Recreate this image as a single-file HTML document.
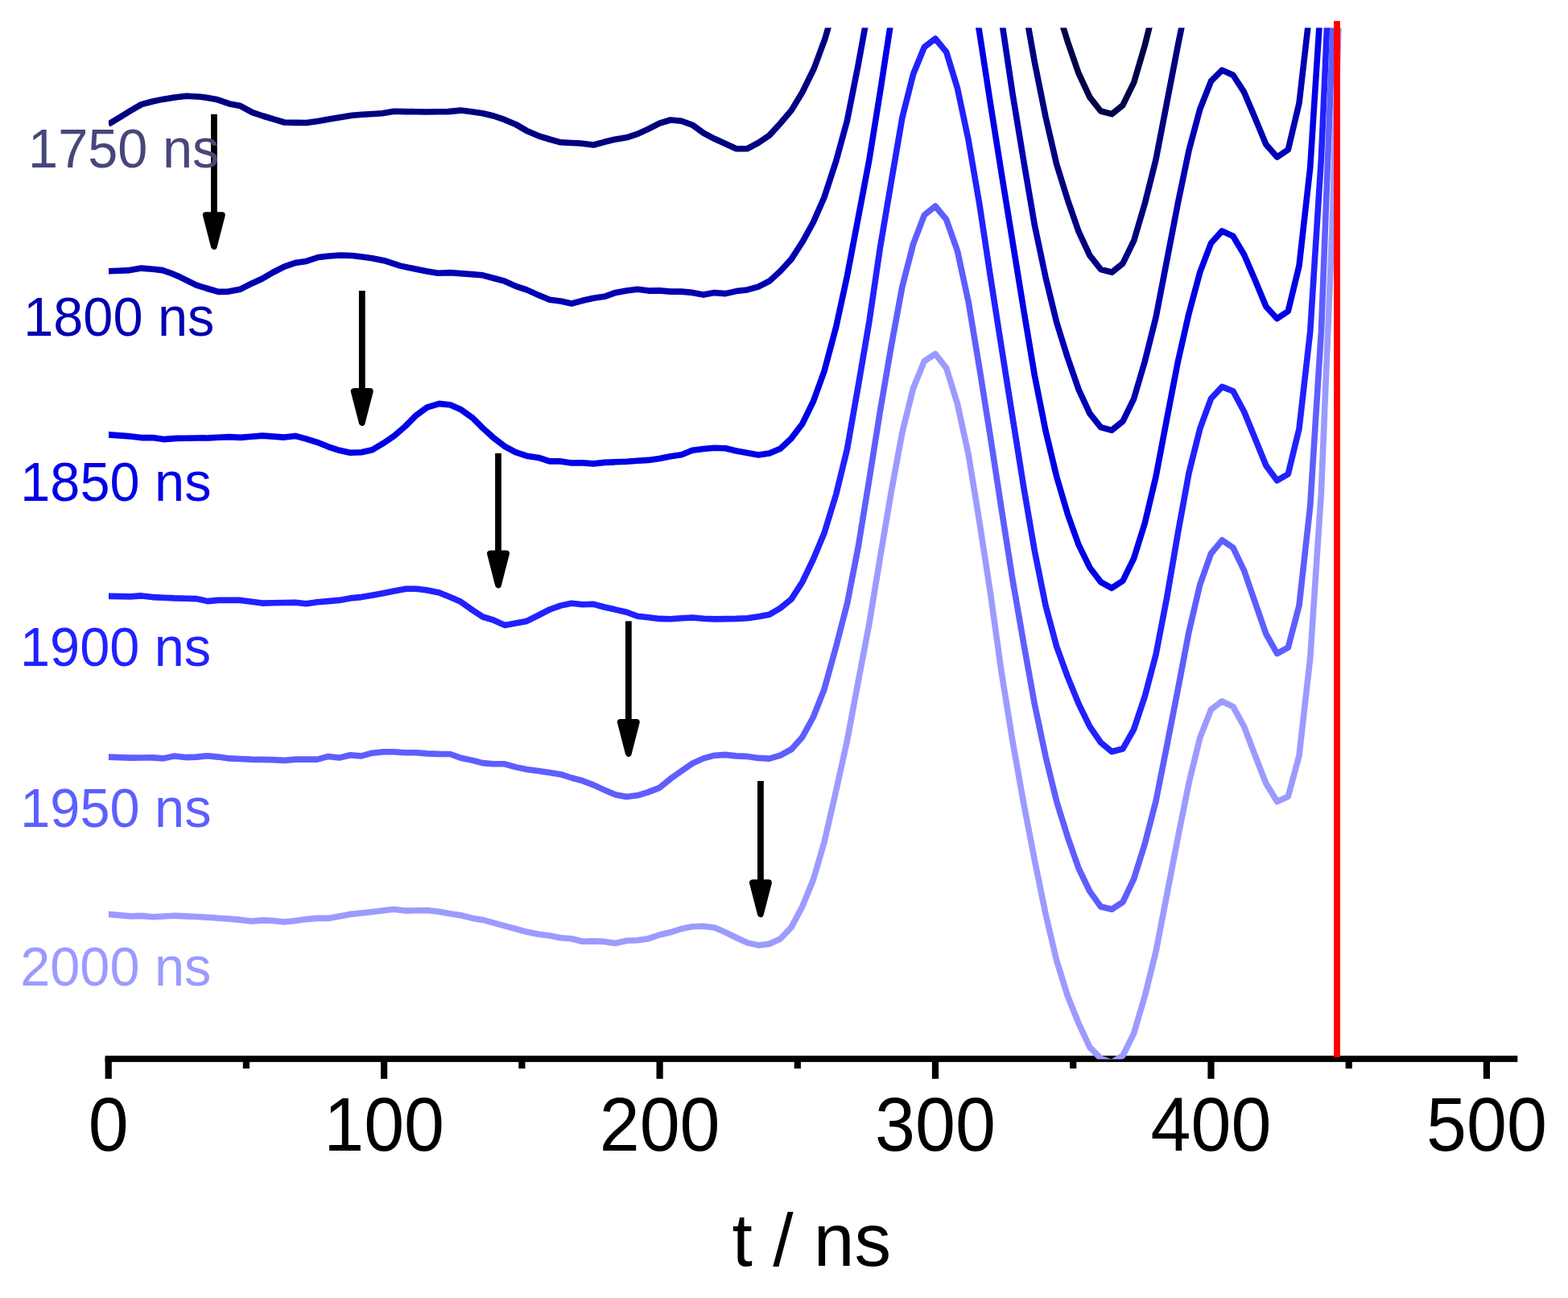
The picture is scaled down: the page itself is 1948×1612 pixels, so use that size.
<!DOCTYPE html>
<html lang="en"><head><meta charset="utf-8"><title>t / ns</title>
<style>html,body{margin:0;padding:0;background:#fff}body{width:1948px;height:1612px;overflow:hidden}svg{display:block}text{font-family:"Liberation Sans",Arial,sans-serif}</style>
</head><body>
<svg width="1948" height="1612" viewBox="0 0 1948 1612" role="img" aria-label="Stacked traces versus t / ns">
<rect width="1948" height="1612" fill="#fff"/>
<defs><clipPath id="plot"><rect x="134.9" y="34.6" width="1765.1" height="1281.0"/></clipPath></defs>
<g fill="#000">
<rect x="130.6" y="1311.1" width="1754.7" height="7.8"/>
<rect x="130.6" y="1313.1" width="8.2" height="26.7"/>
<rect x="301.8" y="1313.1" width="8.2" height="13.9"/>
<rect x="473.0" y="1313.1" width="8.2" height="26.7"/>
<rect x="644.3" y="1313.1" width="8.2" height="13.9"/>
<rect x="815.5" y="1313.1" width="8.2" height="26.7"/>
<rect x="986.7" y="1313.1" width="8.2" height="13.9"/>
<rect x="1157.9" y="1313.1" width="8.2" height="26.7"/>
<rect x="1329.1" y="1313.1" width="8.2" height="13.9"/>
<rect x="1500.4" y="1313.1" width="8.2" height="26.7"/>
<rect x="1671.6" y="1313.1" width="8.2" height="13.9"/>
<rect x="1842.8" y="1313.1" width="8.2" height="26.7"/>
</g>
<g clip-path="url(#plot)" fill="none" stroke-width="7.6" stroke-linejoin="round" stroke-linecap="butt">
<polyline stroke="#000049" points="1230.5,-448.3 1244.2,-355.3 1257.9,-268.3 1271.6,-189.3 1285.3,-113.3 1299.0,-48.3 1312.7,7.7 1326.4,51.7 1340.1,91.2 1353.8,120.7 1367.5,138.0 1381.2,141.7 1394.9,130.7 1408.6,102.7 1422.3,56.2 1436.0,1.7 1449.7,-69.3 1463.4,-140.3 1477.1,-207.3 1490.8,-258.3 1504.5,-292.3"/>
<polyline stroke="#000080" points="134.7,154.3 148.4,146.0 162.1,137.5 175.8,129.6 189.5,126.0 201.9,123.4 216.9,121.0 231.7,119.2 249.0,120.2 258.0,121.5 268.9,123.4 285.0,128.9 298.7,131.6 313.5,139.6 326.5,144.0 340.2,148.2 353.3,152.0 367.6,152.4 380.5,152.5 395.0,150.5 408.7,148.0 422.4,145.8 437.6,143.3 450.0,142.3 463.5,141.5 474.8,140.8 489.7,138.3 503.4,138.6 517.0,138.8 529.4,139.0 543.0,138.8 556.7,138.6 572.4,137.1 586.0,138.8 599.7,140.8 613.3,144.0 627.0,148.7 640.6,154.4 654.3,162.4 669.2,168.8 682.8,173.0 696.5,176.8 710.0,177.5 721.3,178.0 737.4,180.0 751.0,176.3 763.5,173.3 778.4,170.8 792.0,166.4 805.7,160.1 819.3,153.2 833.0,149.0 846.6,150.2 860.2,155.2 873.9,165.1 887.5,172.3 901.2,178.5 914.8,184.7 928.5,184.7 942.1,177.3 955.8,168.1 969.4,153.2 983.1,137.1 996.7,114.7 1011.3,85.0 1025.0,48.0 1038.7,0.0 1052.4,-60.0 1100.0,-300.0 1180.0,-300.0 1175.7,-530.8 1189.4,-485.8 1203.1,-420.8 1216.8,-342.8 1230.5,-251.8 1244.2,-158.8 1257.9,-90.0 1271.6,0.0 1285.3,77.0 1299.0,145.0 1312.7,204.2 1326.4,248.2 1340.1,287.7 1353.8,317.2 1367.5,334.5 1381.2,338.2 1394.9,327.2 1408.6,299.2 1422.3,252.7 1436.0,198.2 1449.7,127.2 1463.4,56.2 1477.1,-10.8 1490.8,-61.8 1504.5,-95.8"/>
<polyline stroke="#0000b2" points="134.7,336.8 148.4,336.2 161.0,335.6 175.8,333.1 189.5,334.3 201.9,335.6 213.0,339.5 224.2,344.3 244.0,354.2 258.0,358.5 271.4,362.4 283.8,362.1 298.7,359.2 313.5,351.7 326.0,346.0 339.6,338.0 353.3,331.1 368.0,326.2 380.5,324.4 395.4,319.5 409.0,318.0 422.7,317.0 437.6,317.5 450.0,319.0 462.4,320.7 477.3,323.7 497.2,330.1 517.0,334.3 530.7,337.0 544.3,339.3 559.2,338.6 572.4,339.6 586.0,340.6 599.7,341.8 613.3,345.5 627.0,349.2 640.6,355.4 654.3,359.9 669.2,366.6 682.8,372.3 696.5,374.0 710.1,377.0 723.8,373.3 737.4,370.3 751.0,368.3 764.7,363.4 778.4,361.1 792.0,359.2 805.7,361.1 819.3,360.9 833.0,362.1 846.6,362.1 860.2,363.4 873.9,366.1 887.5,363.6 901.2,364.6 914.8,361.6 928.5,359.9 942.1,356.2 955.8,349.2 969.4,336.8 983.1,321.9 996.7,300.8 1010.4,276.0 1024.0,245.0 1038.7,200.0 1052.4,150.0 1066.1,81.0 1079.8,6.0 1093.5,-75.0 1107.2,-160.0 1120.9,-253.7 1134.6,-308.2 1148.3,-341.7 1162.0,-351.7 1175.7,-334.7 1189.4,-289.7 1203.1,-224.7 1216.8,-146.7 1230.5,-66.0 1244.2,24.0 1257.9,116.0 1271.6,199.0 1285.3,279.3 1299.0,344.3 1312.7,400.3 1326.4,444.3 1340.1,483.8 1353.8,513.3 1367.5,530.6 1381.2,534.3 1394.9,523.3 1408.6,495.3 1422.3,448.8 1436.0,394.3 1449.7,323.3 1463.4,252.3 1477.1,186.4 1490.8,135.5 1504.5,100.8 1518.2,87.1 1531.9,93.3 1545.6,114.4 1559.3,146.7 1572.9,179.6 1586.6,195.1 1600.3,185.8 1614.0,128.1 1627.7,9.0 1641.4,-200.0 1655.1,-535.7 1668.8,-910.7"/>
<polyline stroke="#0000e6" points="134.7,539.9 148.4,540.9 162.2,541.9 175.8,543.6 189.5,543.6 203.1,545.6 219.3,544.4 231.0,544.2 244.0,544.0 259.0,543.9 271.4,543.3 285.0,542.6 298.7,543.4 312.3,542.2 326.0,541.1 339.6,542.1 353.3,543.1 366.9,541.4 380.5,545.1 394.2,549.3 407.8,554.8 421.5,559.3 435.1,562.2 448.8,561.7 462.4,558.8 476.1,550.6 489.7,541.4 503.4,529.5 517.0,515.8 530.7,505.9 545.6,501.4 559.2,502.7 572.9,508.8 587.3,519.1 599.7,531.5 613.3,543.9 627.0,554.3 640.6,561.7 654.3,566.2 669.2,568.4 682.8,572.9 696.5,572.9 710.1,574.9 723.8,574.9 737.4,575.9 751.0,574.4 764.7,573.8 778.4,573.2 792.0,572.3 805.7,571.4 819.3,569.4 833.0,566.7 846.6,564.7 860.2,559.3 873.9,557.5 887.5,556.3 901.2,556.8 914.8,560.0 928.5,562.5 942.1,565.0 955.8,563.0 969.4,557.3 983.1,544.4 996.7,526.5 1010.4,498.5 1024.0,461.0 1038.7,406.0 1052.4,343.0 1066.1,271.0 1079.8,199.0 1093.5,114.0 1107.2,25.0 1120.9,-57.7 1134.6,-112.2 1148.3,-145.7 1162.0,-155.7 1175.7,-138.7 1189.4,-93.7 1203.1,-37.0 1216.8,40.0 1230.5,129.0 1244.2,215.3 1257.9,299.6 1271.6,384.0 1285.3,466.0 1299.0,535.0 1312.7,592.0 1326.4,638.5 1340.1,676.7 1353.8,704.7 1367.5,722.8 1381.2,730.3 1394.9,721.4 1408.6,693.5 1422.3,649.7 1436.0,592.0 1449.7,520.0 1463.4,449.0 1477.1,388.9 1490.8,338.0 1504.5,302.0 1518.2,286.9 1531.9,293.3 1545.6,316.3 1559.3,347.9 1572.9,380.8 1586.6,395.7 1600.3,386.4 1614.0,330.0 1627.7,208.0 1641.4,-5.0 1655.1,-339.7 1668.8,-714.7"/>
<polyline stroke="#2121ff" points="134.7,740.4 148.4,740.6 162.2,740.9 175.8,739.9 189.5,741.6 203.1,742.2 216.8,742.9 230.4,743.2 244.1,743.6 257.7,746.6 271.4,745.4 285.0,745.4 298.7,745.4 312.3,747.2 326.0,749.1 339.6,748.8 353.3,748.5 366.9,748.3 380.5,749.8 394.2,747.8 407.8,746.6 421.5,745.4 435.1,742.9 448.8,741.6 462.4,739.2 476.1,736.7 489.7,734.0 504.6,731.2 517.0,731.2 530.7,733.0 545.6,735.9 559.2,741.6 572.4,747.3 587.3,757.8 599.7,766.0 613.3,770.2 627.0,776.4 640.6,773.9 654.3,771.4 669.2,764.0 682.8,757.0 696.5,752.1 710.1,749.3 723.8,750.8 737.4,750.3 751.0,754.0 764.7,757.1 778.4,760.2 792.0,765.2 805.7,766.7 819.3,768.4 833.0,768.7 846.6,767.8 860.2,767.0 873.9,768.2 887.5,768.9 901.2,768.6 914.8,768.4 928.5,767.7 942.1,765.7 955.8,763.2 969.4,755.3 983.1,744.1 996.7,723.0 1010.4,694.5 1024.0,662.0 1038.7,614.0 1052.4,558.0 1066.1,480.0 1079.8,400.0 1093.5,307.0 1107.2,226.0 1120.9,146.0 1134.6,92.0 1148.3,58.5 1162.0,48.0 1175.7,64.7 1189.4,109.3 1203.1,173.8 1216.8,253.3 1230.5,344.0 1244.2,431.5 1257.9,518.0 1271.6,604.0 1285.3,684.0 1299.0,752.0 1312.7,803.0 1326.4,840.6 1340.1,874.1 1353.8,902.1 1367.5,922.1 1381.2,933.5 1394.9,930.0 1408.6,905.8 1422.3,864.8 1436.0,813.0 1449.7,742.0 1463.4,662.0 1477.1,587.0 1490.8,532.3 1504.5,495.0 1518.2,480.4 1531.9,485.7 1545.6,511.2 1559.3,544.7 1572.9,578.2 1586.6,596.8 1600.3,588.7 1614.0,532.3 1627.7,412.0 1641.4,197.0 1655.1,-115.0 1668.8,-511.0"/>
<polyline stroke="#5e5eff" points="134.7,940.1 148.4,940.6 162.2,941.1 175.8,941.0 189.5,940.9 203.1,941.9 216.8,938.9 230.4,940.6 244.1,940.1 257.7,938.7 271.4,940.1 285.0,941.9 298.7,942.5 312.3,943.1 326.0,943.4 339.6,943.6 353.3,944.4 366.9,943.1 380.5,943.1 394.2,943.1 407.8,939.4 421.5,941.1 435.1,937.7 448.8,938.9 462.4,935.2 476.1,933.7 489.7,933.7 503.4,934.7 517.0,934.7 530.7,935.9 545.6,936.4 559.2,936.5 572.4,941.3 587.3,944.4 599.7,947.6 613.3,948.8 627.0,948.8 640.6,952.6 654.3,955.5 669.2,957.5 682.8,959.6 696.5,961.7 710.1,966.0 723.8,969.7 737.4,974.9 751.0,981.1 764.7,987.0 778.4,989.5 792.0,987.8 805.7,983.6 819.3,978.4 833.0,967.2 846.6,957.5 860.2,948.1 873.9,941.9 887.5,938.2 901.2,937.4 914.8,938.9 928.5,939.4 942.1,941.4 955.8,942.1 969.4,938.2 983.1,930.7 996.7,915.5 1010.4,890.5 1024.0,856.0 1038.7,803.0 1052.4,750.0 1066.1,680.0 1079.8,596.0 1093.5,510.0 1107.2,430.0 1120.9,356.0 1134.6,303.0 1148.3,267.1 1162.0,256.0 1175.7,272.7 1189.4,311.4 1203.1,374.7 1216.8,457.0 1230.5,543.0 1244.2,632.3 1257.9,719.3 1271.6,798.3 1285.3,874.3 1299.0,939.3 1312.7,995.3 1326.4,1039.4 1340.1,1078.5 1353.8,1106.9 1367.5,1126.0 1381.2,1129.3 1394.9,1120.4 1408.6,1091.6 1422.3,1047.8 1436.0,995.0 1449.7,926.0 1463.4,856.0 1477.1,784.3 1490.8,726.0 1504.5,687.5 1518.2,670.8 1531.9,680.1 1545.6,708.6 1559.3,748.3 1572.9,787.4 1586.6,811.6 1600.3,804.1 1614.0,752.0 1627.7,628.5 1641.4,412.0 1655.1,55.0 1668.8,-315.7"/>
<polyline stroke="#9b9bff" points="134.7,1135.4 148.4,1136.6 162.2,1137.9 175.8,1137.4 189.5,1138.7 203.1,1138.0 216.8,1137.2 230.4,1137.9 244.1,1138.5 257.7,1139.2 271.4,1140.2 285.0,1141.1 298.7,1142.4 312.3,1144.1 326.0,1142.9 339.6,1143.4 353.3,1145.1 366.9,1143.4 380.5,1141.6 394.2,1140.4 407.8,1140.4 421.5,1137.9 435.1,1135.4 448.8,1134.0 462.4,1132.5 476.1,1130.8 489.7,1129.2 503.4,1131.0 517.0,1130.8 530.7,1130.5 545.6,1132.2 559.2,1134.7 572.4,1136.7 587.3,1140.4 599.7,1142.4 613.3,1146.1 627.0,1149.8 640.6,1153.5 654.3,1157.3 669.2,1160.2 682.8,1162.0 696.5,1164.7 710.1,1165.7 723.8,1169.2 737.4,1168.9 751.0,1169.4 764.7,1171.4 778.4,1168.2 792.0,1167.7 805.7,1165.7 819.3,1161.0 833.0,1157.8 846.6,1153.5 860.2,1150.8 873.9,1150.3 887.5,1152.1 901.2,1157.8 914.8,1164.5 928.5,1170.9 942.1,1173.9 955.8,1172.2 969.4,1166.0 983.1,1151.6 996.7,1126.0 1010.4,1092.5 1024.0,1046.0 1038.7,982.0 1052.4,920.0 1066.1,847.0 1079.8,775.0 1093.5,692.0 1107.2,611.0 1120.9,537.0 1134.6,482.0 1148.3,448.5 1162.0,439.5 1175.7,457.2 1189.4,501.3 1203.1,564.0 1216.8,648.0 1230.5,737.0 1244.2,835.0 1257.9,920.0 1271.6,997.0 1285.3,1068.0 1299.0,1135.0 1312.7,1193.0 1326.4,1237.0 1340.1,1271.0 1353.8,1300.5 1367.5,1314.5 1381.2,1319.5 1394.9,1311.0 1408.6,1283.5 1422.3,1237.0 1436.0,1182.0 1449.7,1111.0 1463.4,1040.0 1477.1,971.9 1490.8,916.1 1504.5,881.3 1518.2,870.8 1531.9,877.6 1545.6,902.4 1559.3,938.4 1572.9,973.1 1586.6,995.5 1600.3,989.3 1614.0,938.4 1627.7,817.5 1641.4,612.0 1655.1,282.0 1668.8,-152.0"/>
</g>
<rect x="1657.1" y="26.1" width="7.8" height="1286.9" fill="#ff0000"/>
<rect x="262.0" y="141.9" width="7.8" height="127.2" fill="#000"/><polygon points="255.80,267.05 275.90,267.05 265.85,306.05" fill="#000" stroke="#000" stroke-width="7.8" stroke-linejoin="round"/>
<rect x="445.9" y="361.1" width="7.8" height="127.0" fill="#000"/><polygon points="439.70,486.00 459.80,486.00 449.75,525.00" fill="#000" stroke="#000" stroke-width="7.8" stroke-linejoin="round"/>
<rect x="615.1" y="563.0" width="7.8" height="126.6" fill="#000"/><polygon points="608.95,687.50 629.05,687.50 619.00,726.50" fill="#000" stroke="#000" stroke-width="7.8" stroke-linejoin="round"/>
<rect x="776.9" y="771.4" width="7.8" height="127.6" fill="#000"/><polygon points="770.75,896.90 790.85,896.90 780.80,935.90" fill="#000" stroke="#000" stroke-width="7.8" stroke-linejoin="round"/>
<rect x="941.0" y="969.9" width="7.8" height="128.4" fill="#000"/><polygon points="934.85,1096.20 954.95,1096.20 944.90,1135.20" fill="#000" stroke="#000" stroke-width="7.8" stroke-linejoin="round"/>
<text transform="translate(35.1,208.2) scale(1,1.040)" font-size="66.67" fill="#47477a">1750 ns</text>
<text transform="translate(29.2,416.6) scale(1,1.040)" font-size="66.67" fill="#0000b2">1800 ns</text>
<text transform="translate(25.3,621.8) scale(1,1.040)" font-size="66.67" fill="#0000e6">1850 ns</text>
<text transform="translate(25.0,827.3) scale(1,1.040)" font-size="66.67" fill="#2121ff">1900 ns</text>
<text transform="translate(25.3,1027.0) scale(1,1.040)" font-size="66.67" fill="#5e5eff">1950 ns</text>
<text transform="translate(25.2,1224.0) scale(1,1.040)" font-size="66.67" fill="#9b9bff">2000 ns</text>
<text transform="translate(134.7,1429.2) scale(0.98,1.040)" font-size="91.67" text-anchor="middle" fill="#000">0</text>
<text transform="translate(477.1,1429.2) scale(0.98,1.040)" font-size="91.67" text-anchor="middle" fill="#000">100</text>
<text transform="translate(819.6,1429.2) scale(0.98,1.040)" font-size="91.67" text-anchor="middle" fill="#000">200</text>
<text transform="translate(1162.0,1429.2) scale(0.98,1.040)" font-size="91.67" text-anchor="middle" fill="#000">300</text>
<text transform="translate(1504.5,1429.2) scale(0.98,1.040)" font-size="91.67" text-anchor="middle" fill="#000">400</text>
<text transform="translate(1846.9,1429.2) scale(0.98,1.040)" font-size="91.67" text-anchor="middle" fill="#000">500</text>
<text transform="translate(1008.3,1572) scale(0.995,1.02)" font-size="91.67" text-anchor="middle" fill="#000">t / ns</text>
</svg></body></html>
